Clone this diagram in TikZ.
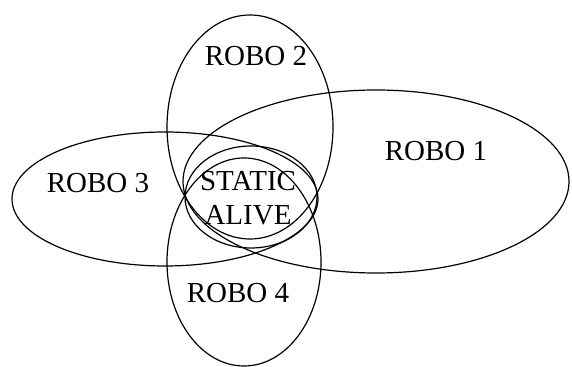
\documentclass[tikz,border=0pt]{standalone}
\usepackage{fontspec}
\setmainfont{Liberation Serif}
\usepackage{tikz}
\usetikzlibrary{shapes,positioning}
\tikzset{robo set/.style={draw=black, ellipse, line width=0.6pt, inner sep=0pt}}
\tikzset{robo label/.style={font=\fontsize{14.5}{17}\selectfont, inner sep=0pt, align=center}}

\begin{document}
\begin{tikzpicture}[x=0.5pt, y=-0.5pt]
\useasboundingbox (0,0) rectangle (572,367);
\node[robo set, minimum width=193pt, minimum height=91.5pt] (robo1) at (376,181.5) {};
\node[robo set, minimum width=83pt, minimum height=112pt] (robo2) at (250,127) {};
\node[robo set, minimum width=153pt, minimum height=67pt] (robo3) at (165,199) {};
\node[robo set, minimum width=77pt, minimum height=104pt] (robo4) at (244,262) {};
\node[robo set, minimum width=66pt, minimum height=51pt] (core) at (251,197) {};
\node[robo label] (label1) at (436,151) {ROBO 1};
\node[robo label] (label2) at (256,56) {ROBO 2};
\node[robo label] (label3) at (98,183) {ROBO 3};
\node[robo label] (label4) at (238,293) {ROBO 4};
\node[robo label] (corelabel) at (248,198) {STATIC\\ALIVE};
\end{tikzpicture}
\end{document}
